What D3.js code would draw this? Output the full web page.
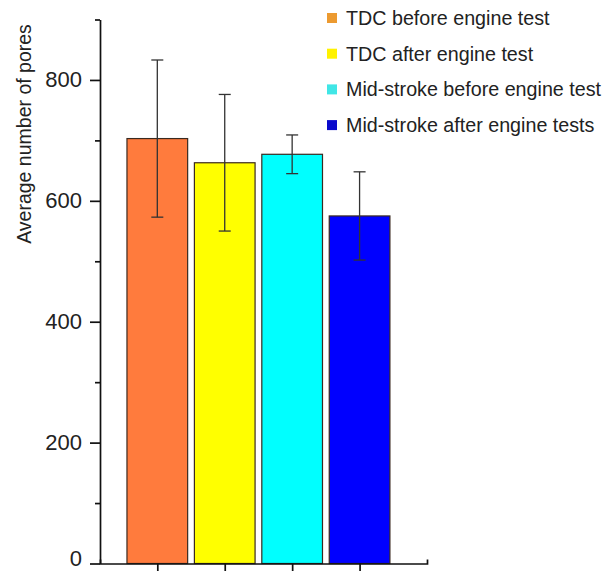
<!DOCTYPE html>
<html>
<head>
<meta charset="utf-8">
<script src="https://cdn.jsdelivr.net/npm/d3@7"></script>
<style>
  body { margin: 0; background: #fff; }
  svg { display: block; font-family: "Liberation Sans", Arial, sans-serif; }
  .axis path, .axis line { stroke: #111; stroke-width: 1.7; }
  .axis text { fill: #222; font-size: 22px; }
</style>
</head>
<body>
<div id="chart"></div>
<script>
// Data - average number of pores per position
const categories = ['TDC before engine test', 'TDC after engine test', 'Mid-stroke before engine test', 'Mid-stroke after engine tests'];
const positions = [1, 2, 3, 4];
const means = [703, 663, 677, 575];
const errors = [130, 113, 32, 73];
const yTicks = [0, 200, 400, 600, 800];
const yMinorTicks = [100, 300, 500, 700, 900];

const barColors = ['#ff7b3d', '#ffff00', '#00ffff', '#0000ff'];
const legendColors = ['#ec9a30', '#fff200', '#40e6e6', '#0a0acc'];

const width = 605;
const height = 571;

// Scales
let x_scale = d3.scaleLinear()
  .domain([0.15, 5])
  .range([100, 427]);
let y_scale = d3.scaleLinear()
  .domain([0, 900])
  .range([563.5, 19.5]);
const barWidth = x_scale(1.9) - x_scale(1);

let svg = d3.select('#chart')
  .append('svg')
    .attr('width', width)
    .attr('height', height);

// Bars
svg.append('g')
  .selectAll('rect')
  .data(means)
  .join('rect')
    .attr('x', (d, i) => x_scale(positions[i]) - barWidth / 2)
    .attr('y', d => y_scale(d))
    .attr('width', barWidth)
    .attr('height', d => y_scale(0) - y_scale(d))
    .attr('fill', (d, i) => barColors[i])
    .attr('stroke', '#3a2a20')
    .attr('stroke-width', 1.2);

// Error bars
let err = svg.append('g')
  .attr('stroke', '#333')
  .attr('stroke-width', 1.3);
means.forEach((m, i) => {
  const cx = x_scale(positions[i]);
  const top = y_scale(m + errors[i]);
  const bot = y_scale(m - errors[i]);
  err.append('line').attr('x1', cx).attr('x2', cx).attr('y1', top).attr('y2', bot);
  err.append('line').attr('x1', cx - 6).attr('x2', cx + 6).attr('y1', top).attr('y2', top);
  err.append('line').attr('x1', cx - 6).attr('x2', cx + 6).attr('y1', bot).attr('y2', bot);
});

// Y axis
let yAxis = svg.append('g')
  .attr('class', 'axis')
  .attr('transform', 'translate(100,0)')
  .call(d3.axisLeft(y_scale).tickValues(yTicks).tickSize(10).tickSizeOuter(0).tickPadding(8));
// keep the "0" label inside the picture
yAxis.selectAll('.tick text').filter(d => d === 0).attr('dy', '0.08em');
svg.append('g')
  .attr('class', 'axis')
  .attr('transform', 'translate(100,0)')
  .call(d3.axisLeft(y_scale).tickValues(yMinorTicks).tickSize(5).tickSizeOuter(0).tickFormat(''))
  .select('.domain').remove();

// X axis
svg.append('g')
  .attr('class', 'axis')
  .attr('transform', 'translate(0,' + y_scale(0) + ')')
  .call(d3.axisBottom(x_scale).tickValues(positions).tickSize(8).tickSizeOuter(-4).tickFormat(''));

// Y label
svg.append('text')
  .attr('transform', 'translate(31,134) rotate(-90)')
  .attr('text-anchor', 'middle')
  .attr('fill', '#222')
  .style('font-size', '19.5px')
  .text('Average number of pores');

// Legend
let legend = svg.append('g')
  .selectAll('g')
  .data(categories)
  .join('g')
    .attr('transform', (d, i) => 'translate(327,' + (25 + i * 35.7) + ')');
legend.append('rect')
  .attr('x', 0)
  .attr('y', -12)
  .attr('width', 10)
  .attr('height', 10)
  .attr('fill', (d, i) => legendColors[i]);
legend.append('text')
  .attr('x', 19)
  .attr('y', 0)
  .attr('fill', '#222')
  .style('font-size', '19.7px')
  .text(d => d);
</script>
</body>
</html>
